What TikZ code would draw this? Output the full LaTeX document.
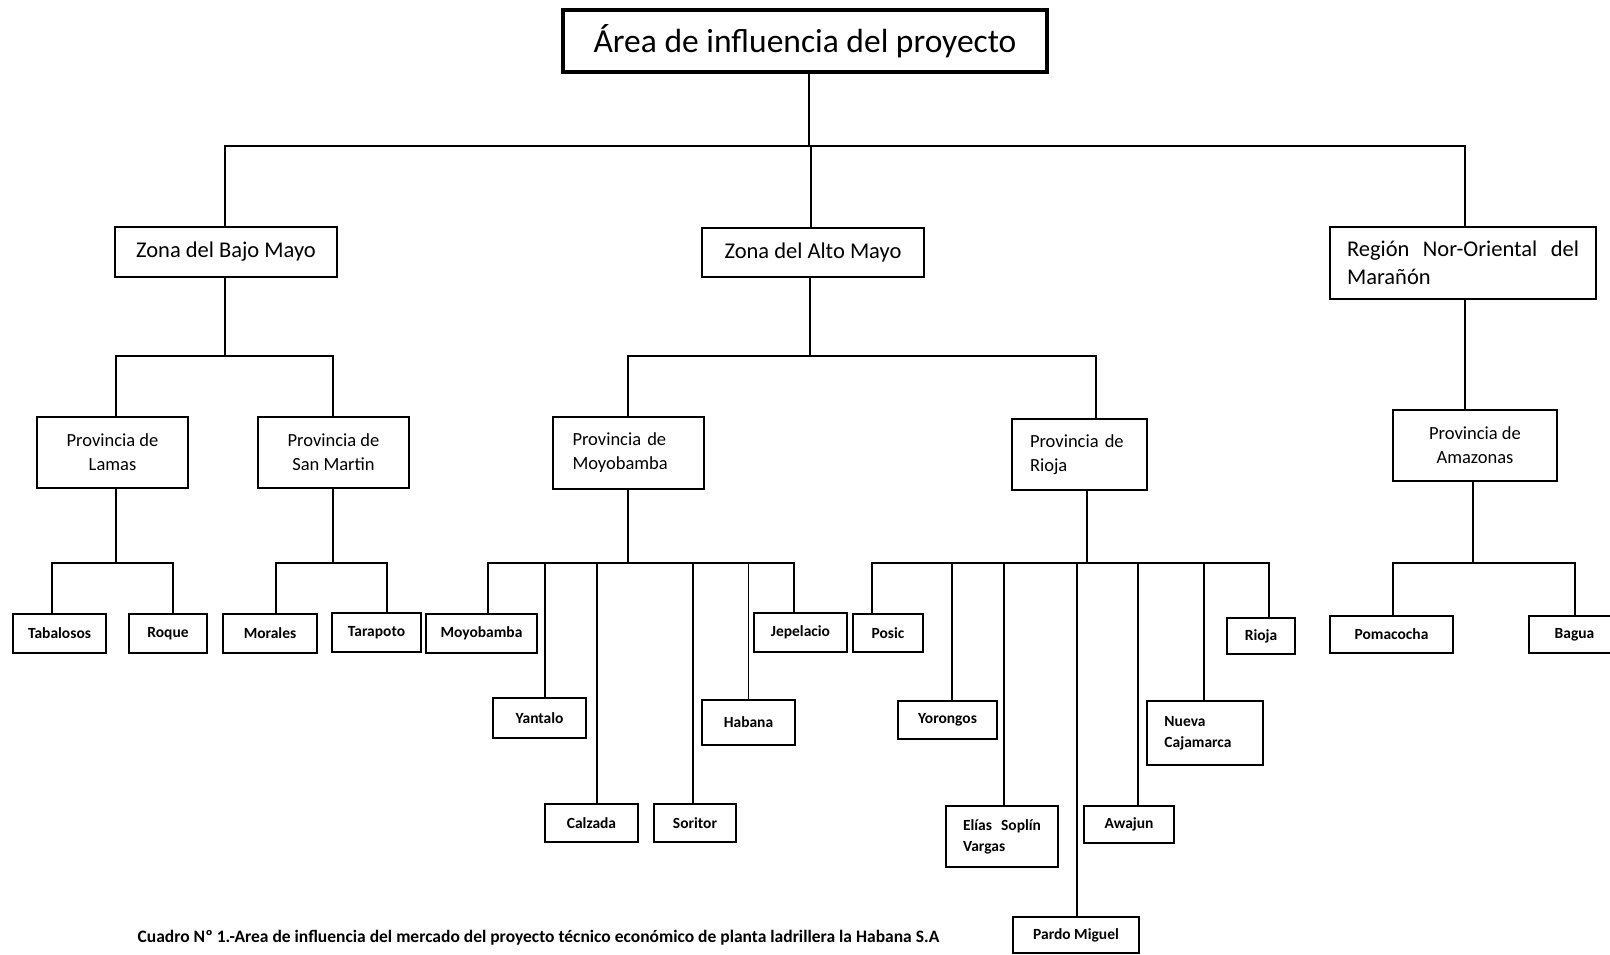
\documentclass[tikz,border=0pt]{standalone}
\usepackage{fontspec}
\setmainfont{Carlito}
\usetikzlibrary{positioning,calc}

\begin{document}
\begin{tikzpicture}[x=1pt,y=-1pt,
  every node/.append style={inner sep=0pt},
  rootbox/.style={draw,line width=3.2pt,minimum width=484pt,minimum height=62pt,font=\fontsize{33.5}{40}\selectfont},
  zona/.style={draw,line width=2.4pt,font=\fontsize{22.5}{28}\selectfont},
  prov/.style={draw,line width=2.4pt,minimum width=151pt,minimum height=71pt,font=\fontsize{18.5}{24}\selectfont},
  leaf/.style={draw,line width=2.2pt,align=left,font=\bfseries\fontsize{15.5}{21}\selectfont},
  link/.style={line width=1.8pt}]
\useasboundingbox (0,0) rectangle (1610,955);
% top: the project's area
\node[rootbox] (area) at (805,41) {Área de influencia del proyecto};
% row 1: the zones
\node[zona,minimum width=222pt,minimum height=50pt] (bajo) at (226,252) {Zona del Bajo Mayo};
\node[zona,minimum width=222pt,minimum height=49pt] (alto) at (813,252.5) {Zona del Alto Mayo};
\node[zona,minimum width=266pt,minimum height=72pt,align=left] (maranon) at (1463,263) {\makebox[232pt][s]{Región Nor-Oriental del}\\Marañón};
% row 2: the provinces
\node[prov,align=center] (lamas) at (112.5,452.5) {Provincia de\\Lamas};
\node[prov,align=center] (sanmartin) at (333.5,452.5) {Provincia de\\San Martin};
\node[prov,text width=112pt,align=left,minimum height=72pt] (moyo) at (628.5,453) {\makebox[96pt][s]{Provincia de}\\Moyobamba};
\node[prov,text width=99pt,minimum width=135pt,align=left] (riojaprov) at (1079.5,454.5) {\makebox[95pt][s]{Provincia de}\\Rioja};
\node[prov,align=center,minimum width=164pt] (amazonas) at (1475,445.5) {Provincia de\\Amazonas};
% row 3: the districts
\foreach \n/\x/\y/\w/\h/\t in {tabalosos/59.5/633.5/93/39/Tabalosos, roque/168/633.5/78/39/Roque,
  morales/270/633.5/94/39/Morales, tarapoto/376.5/632.5/89/39/Tarapoto,
  moyobamba/481.5/633.5/111/39/Moyobamba, yantalo/539.5/718/93/40/Yantalo, calzada/591.5/823/93/38/Calzada,
  soritor/695/823/82/38/Soritor, habana/748.5/722.5/93/45/Habana, jepelacio/800.5/632.5/93/39/Jepelacio,
  posic/888/633/70/38/Posic, yorongos/947.5/720/99/38/Yorongos,
  elias/1002/836.5/112/61/{\makebox[78pt][s]{Elías Soplín}\\Vargas},
  pardo/1076/935/126/36/Pardo Miguel, awajun/1129/824.5/90/37/Awajun,
  nueva/1205/733/116/64/{Nueva\\Cajamarca\hspace*{14pt}}, rioja/1261/636/68/36/Rioja,
  pomacocha/1391.5/634.5/123/37/Pomacocha, bagua/1574.5/634.5/91/37/Bagua}{
  \node[leaf,minimum width=\w pt,minimum height=\h pt] (\n) at (\x,\y) {\t};}
% connectors, through the bus lines
\coordinate (bus1) at (0,146);
\coordinate (bus2) at (0,356);
\coordinate (bus3) at (0,563);
\foreach \c/\dx in {bajo/-1, alto/-2, maranon/2}
  \draw[link] ([xshift=4pt]area.south) -- ([xshift=4pt]area.south |- bus1) -| ([xshift=\dx pt]\c.north);
\foreach \p/\pdx/\kids in {bajo/-1/{lamas/3.5,sanmartin/-0.5}, alto/-3/{moyo/-0.5,riojaprov/16.5}}{
  \foreach \c/\dx in \kids
    \draw[link] ([xshift=\pdx pt]\p.south) -- ([xshift=\pdx pt]\p.south |- bus2) -| ([xshift=\dx pt]\c.north);}
\draw[link] ([xshift=2pt]maranon.south) -- ([xshift=-10pt]amazonas.north);
\foreach \p/\pdx/\kids in {lamas/3.5/{tabalosos/-7.5,roque/5}, sanmartin/-0.5/{morales/6,tarapoto/10.5},
  moyo/-0.5/{moyobamba/6.5,yantalo/5.5,calzada/5.5,soritor/-2,habana/0,jepelacio/-6.5},
  riojaprov/7.5/{posic/-16,yorongos/4.5,elias/2,pardo/1,awajun/9,nueva/-1,rioja/8},
  amazonas/-2/{pomacocha/1.5,bagua/0.5}}{
  \foreach \c/\dx in \kids
    \draw[link] ([xshift=\pdx pt]\p.south) -- ([xshift=\pdx pt]\p.south |- bus3) -| ([xshift=\dx pt]\c.north);}
% caption
\node[font=\bfseries\fontsize{17.5}{20}\selectfont] (caption) at (538.5,938) {Cuadro Nº 1.-Area de influencia del mercado del proyecto técnico económico de planta ladrillera la Habana S.A};
\end{tikzpicture}
\end{document}
